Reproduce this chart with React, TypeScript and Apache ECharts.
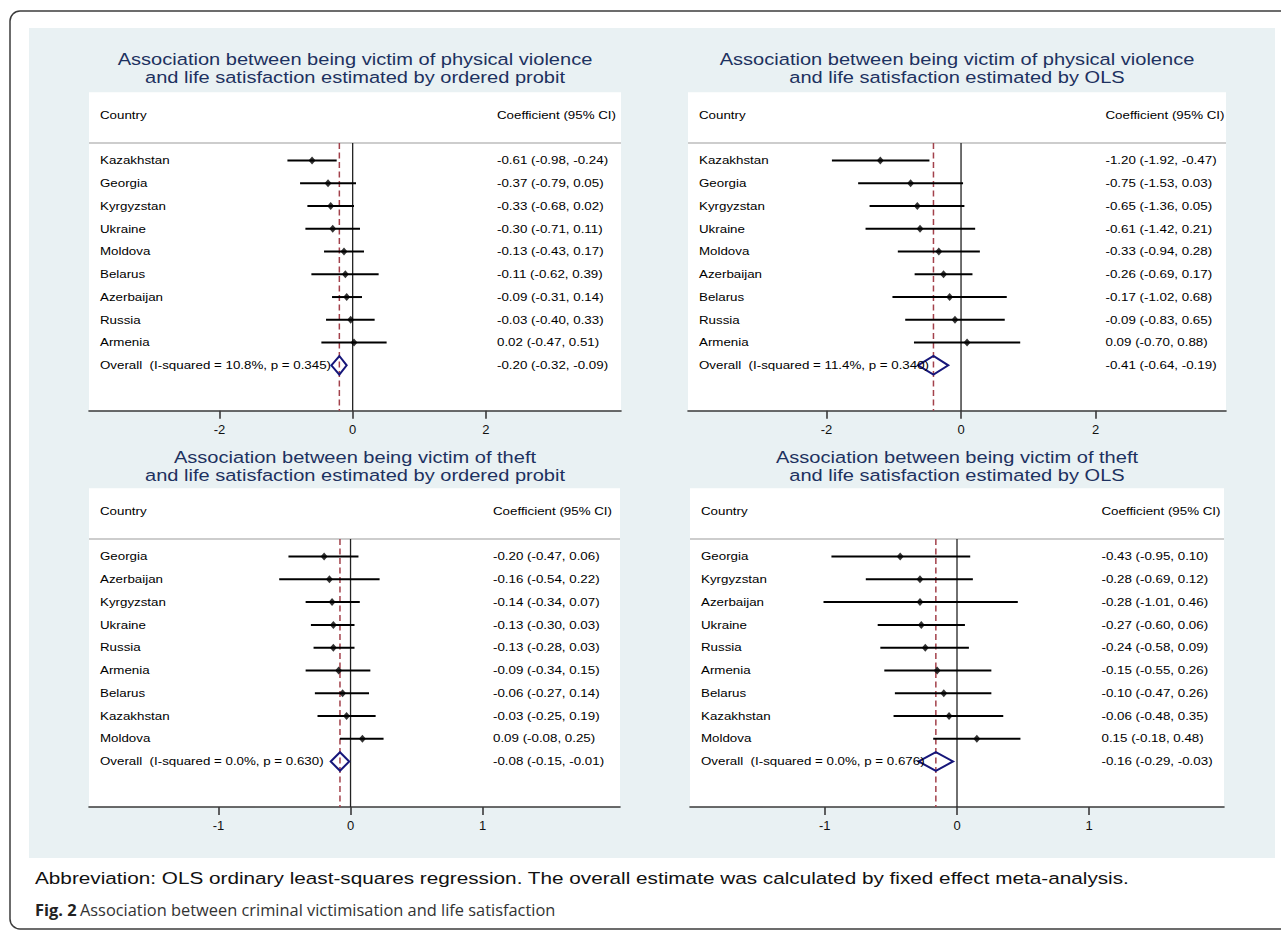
import React, { useEffect, useRef } from "react";
import * as echarts from "echarts";

const FONT = '"Liberation Sans", Arial, Helvetica, sans-serif';

// ---------- Data ----------
// Panel A: physical violence, ordered probit
const pvProbitCountries = ["Kazakhstan", "Georgia", "Kyrgyzstan", "Ukraine", "Moldova", "Belarus", "Azerbaijan", "Russia", "Armenia"];
const pvProbitEst = [-0.61, -0.37, -0.33, -0.3, -0.13, -0.11, -0.09, -0.03, 0.02];
const pvProbitLo = [-0.98, -0.79, -0.68, -0.71, -0.43, -0.62, -0.31, -0.4, -0.47];
const pvProbitHi = [-0.24, 0.05, 0.02, 0.11, 0.17, 0.39, 0.14, 0.33, 0.51];
const pvProbitOverall = [-0.2, -0.32, -0.09];
const pvProbitHet = "Overall  (I-squared = 10.8%, p = 0.345)";

// Panel B: physical violence, OLS
const pvOlsCountries = ["Kazakhstan", "Georgia", "Kyrgyzstan", "Ukraine", "Moldova", "Azerbaijan", "Belarus", "Russia", "Armenia"];
const pvOlsEst = [-1.2, -0.75, -0.65, -0.61, -0.33, -0.26, -0.17, -0.09, 0.09];
const pvOlsLo = [-1.92, -1.53, -1.36, -1.42, -0.94, -0.69, -1.02, -0.83, -0.7];
const pvOlsHi = [-0.47, 0.03, 0.05, 0.21, 0.28, 0.17, 0.68, 0.65, 0.88];
const pvOlsOverall = [-0.41, -0.64, -0.19];
const pvOlsHet = "Overall  (I-squared = 11.4%, p = 0.340)";

// Panel C: theft, ordered probit
const thProbitCountries = ["Georgia", "Azerbaijan", "Kyrgyzstan", "Ukraine", "Russia", "Armenia", "Belarus", "Kazakhstan", "Moldova"];
const thProbitEst = [-0.2, -0.16, -0.14, -0.13, -0.13, -0.09, -0.06, -0.03, 0.09];
const thProbitLo = [-0.47, -0.54, -0.34, -0.3, -0.28, -0.34, -0.27, -0.25, -0.08];
const thProbitHi = [0.06, 0.22, 0.07, 0.03, 0.03, 0.15, 0.14, 0.19, 0.25];
const thProbitOverall = [-0.08, -0.15, -0.01];
const thProbitHet = "Overall  (I-squared = 0.0%, p = 0.630)";

// Panel D: theft, OLS
const thOlsCountries = ["Georgia", "Kyrgyzstan", "Azerbaijan", "Ukraine", "Russia", "Armenia", "Belarus", "Kazakhstan", "Moldova"];
const thOlsEst = [-0.43, -0.28, -0.28, -0.27, -0.24, -0.15, -0.1, -0.06, 0.15];
const thOlsLo = [-0.95, -0.69, -1.01, -0.6, -0.58, -0.55, -0.47, -0.48, -0.18];
const thOlsHi = [0.1, 0.12, 0.46, 0.06, 0.09, 0.26, 0.26, 0.35, 0.48];
const thOlsOverall = [-0.16, -0.29, -0.03];
const thOlsHet = "Overall  (I-squared = 0.0%, p = 0.676)";

const topTicks = [-2, 0, 2];
const bottomTicks = [-1, 0, 1];

const titlesLine1 = [
  "Association between being victim of physical violence",
  "Association between being victim of physical violence",
  "Association between being victim of theft",
  "Association between being victim of theft",
];
const titlesLine2 = [
  "and life satisfaction estimated by ordered probit",
  "and life satisfaction estimated by OLS",
  "and life satisfaction estimated by ordered probit",
  "and life satisfaction estimated by OLS",
];

const HEADER_LEFT = "Country";
const HEADER_RIGHT = "Coefficient (95% CI)";
const FOOTNOTE =
  "Abbreviation: OLS ordinary least-squares regression. The overall estimate was calculated by fixed effect meta-analysis.";
const CAPTION_BOLD = "Fig. 2";
const CAPTION_TEXT = "Association between criminal victimisation and life satisfaction";

// ---------- Layout ----------
const ROW_MIN = -1;
const ROW_MAX = 13;
const HEADER_ROW = 0;
const FIRST_ROW = 2;
const OVERALL_ROW = 11;
const RULE_ROW = 1.23;

const TITLE_COLOR = "#1d3160";
const DIAMOND_COLOR = "#16167a";
const DASH_COLOR = "#a3414b";
const AXIS_COLOR = "#3a3a3a";
const BODY_SIZE = 11.8;
const BODY_SCALE = 1.13;

const panels = [
  {
    countries: pvProbitCountries, est: pvProbitEst, lo: pvProbitLo, hi: pvProbitHi,
    overall: pvProbitOverall, het: pvProbitHet,
    xMin: -3.96, xMax: 4.03, ticks: topTicks,
    box: [89, 92.3, 532, 318.5], coefMargin: 124, titleX: 355, titleY: [59.5, 77.5],
  },
  {
    countries: pvOlsCountries, est: pvOlsEst, lo: pvOlsLo, hi: pvOlsHi,
    overall: pvOlsOverall, het: pvOlsHet,
    xMin: -4.06, xMax: 3.94, ticks: topTicks,
    box: [688, 92.3, 538, 318.5], coefMargin: 120.5, titleX: 957, titleY: [59.5, 77.5],
  },
  {
    countries: thProbitCountries, est: thProbitEst, lo: thProbitLo, hi: thProbitHi,
    overall: thProbitOverall, het: thProbitHet,
    xMin: -1.98, xMax: 2.04, ticks: bottomTicks,
    box: [89, 488.3, 531, 318.7], coefMargin: 127, titleX: 355, titleY: [456.7, 475],
  },
  {
    countries: thOlsCountries, est: thOlsEst, lo: thOlsLo, hi: thOlsHi,
    overall: thOlsOverall, het: thOlsHet,
    xMin: -2.02, xMax: 2.02, ticks: bottomTicks,
    box: [690, 488.3, 534, 318.7], coefMargin: 122.5, titleX: 957, titleY: [456.7, 475],
  },
];

const fmt = (v: number) => v.toFixed(2);
const coefText = (e: number, l: number, h: number) => `${fmt(e)} (${fmt(l)}, ${fmt(h)})`;

function buildOption() {
  const grid: any[] = [];
  const xAxis: any[] = [];
  const yAxis: any[] = [];
  const series: any[] = [];
  const graphic: any[] = [];

  // background + border
  graphic.push({
    type: "rect", z: -100, silent: true,
    shape: { x: 29, y: 28, width: 1246, height: 830 },
    style: { fill: "#e9f1f3" },
  });
  graphic.push({
    type: "rect", z: -99, silent: true,
    shape: { x: 10, y: 11, width: 1300, height: 918, r: 10 },
    style: { fill: "none", stroke: "#3c3c3c", lineWidth: 1.5 },
  });

  panels.forEach((p, i) => {
    const [left, top, width, height] = p.box;
    grid.push({ left, top, width, height, show: true, backgroundColor: "#ffffff", borderWidth: 0 });
    xAxis.push({
      type: "value", gridIndex: i, min: p.xMin, max: p.xMax, position: "bottom",
      axisLine: { show: true, onZero: false, lineStyle: { color: AXIS_COLOR, width: 1.6 } },
      axisTick: { show: true, customValues: p.ticks, length: 8, lineStyle: { color: AXIS_COLOR, width: 1.6 } },
      axisLabel: { show: true, customValues: p.ticks, margin: 12, color: "#111", fontSize: 13, fontFamily: FONT },
      splitLine: { show: false },
    });
    yAxis.push({ type: "value", gridIndex: i, min: ROW_MIN, max: ROW_MAX, inverse: true, show: false });

    const rows = p.countries.map((_, k) => FIRST_ROW + k);

    // header rule
    series.push({
      type: "custom", xAxisIndex: i, yAxisIndex: i, z: 1, silent: true,
      data: [[p.xMin, p.xMax, RULE_ROW]],
      encode: { x: [0, 1], y: 2 },
      renderItem: (_: any, api: any) => {
        const a = api.coord([api.value(0), api.value(2)]);
        const b = api.coord([api.value(1), api.value(2)]);
        return { type: "line", shape: { x1: a[0], y1: a[1], x2: b[0], y2: b[1] }, style: { stroke: "#bdbdbd", lineWidth: 1.5 } };
      },
    });

    // zero line (solid) and overall line (dashed)
    series.push({
      type: "custom", xAxisIndex: i, yAxisIndex: i, z: 2, silent: true,
      data: [[0, RULE_ROW, ROW_MAX, 0], [p.overall[0], RULE_ROW, ROW_MAX, 1]],
      encode: { x: 0, y: [1, 2] },
      renderItem: (_: any, api: any) => {
        const a = api.coord([api.value(0), api.value(1)]);
        const b = api.coord([api.value(0), api.value(2)]);
        const dashed = api.value(3) === 1;
        return {
          type: "line",
          shape: { x1: a[0], y1: a[1], x2: b[0], y2: b[1] },
          style: dashed
            ? { stroke: DASH_COLOR, lineWidth: 1.5, lineDash: [6, 3.5] }
            : { stroke: "#222", lineWidth: 1.3 },
        };
      },
    });

    // CI lines
    series.push({
      type: "custom", xAxisIndex: i, yAxisIndex: i, z: 3, silent: true,
      data: rows.map((r, k) => [p.lo[k], p.hi[k], r]),
      encode: { x: [0, 1], y: 2 },
      renderItem: (_: any, api: any) => {
        const a = api.coord([api.value(0), api.value(2)]);
        const b = api.coord([api.value(1), api.value(2)]);
        return { type: "line", shape: { x1: a[0], y1: a[1], x2: b[0], y2: b[1] }, style: { stroke: "#000", lineWidth: 2 } };
      },
    });

    // point estimates
    series.push({
      type: "scatter", xAxisIndex: i, yAxisIndex: i, z: 4, silent: true,
      symbol: "diamond", symbolSize: [7, 8],
      itemStyle: { color: "#000" },
      data: rows.map((r, k) => [p.est[k], r]),
    });

    // overall diamond
    series.push({
      type: "custom", xAxisIndex: i, yAxisIndex: i, z: 5, silent: true,
      data: [[p.overall[1], p.overall[0], p.overall[2], OVERALL_ROW]],
      encode: { x: [0, 1, 2], y: 3 },
      renderItem: (_: any, api: any) => {
        const l = api.coord([api.value(0), api.value(3)]);
        const c = api.coord([api.value(1), api.value(3)]);
        const r = api.coord([api.value(2), api.value(3)]);
        const h = 9.3;
        return {
          type: "polygon",
          shape: { points: [[l[0], c[1]], [c[0], c[1] - h], [r[0], c[1]], [c[0], c[1] + h]] },
          style: { fill: "none", stroke: DIAMOND_COLOR, lineWidth: 2 },
        };
      },
    });

    // left texts (country names) and right texts (coefficients)
    const leftTexts = [HEADER_LEFT, ...p.countries, p.het];
    const rightTexts = [
      HEADER_RIGHT,
      ...p.countries.map((_, k) => coefText(p.est[k], p.lo[k], p.hi[k])),
      coefText(p.overall[0], p.overall[1], p.overall[2]),
    ];
    const textRows = [HEADER_ROW, ...rows, OVERALL_ROW];
    const margin = p.coefMargin;
    series.push({
      type: "custom", xAxisIndex: i, yAxisIndex: i, z: 6, silent: true,
      data: textRows.map((r) => [p.xMin, p.xMax, r]),
      encode: { x: [0, 1], y: 2 },
      renderItem: (params: any, api: any) => {
        const a = api.coord([api.value(0), api.value(2)]);
        const b = api.coord([api.value(1), api.value(2)]);
        const idx = params.dataIndex;
        const st = {
          fill: "#000", fontSize: BODY_SIZE, fontFamily: FONT,
          align: "left", textAlign: "left", verticalAlign: "middle", textVerticalAlign: "middle",
        };
        return {
          type: "group",
          children: [
            { type: "text", x: a[0] + 11, y: a[1], scaleX: BODY_SCALE, style: { ...st, text: leftTexts[idx] } },
            { type: "text", x: b[0] - margin, y: b[1], scaleX: BODY_SCALE, style: { ...st, text: rightTexts[idx] } },
          ],
        };
      },
    });

    // titles
    [titlesLine1[i], titlesLine2[i]].forEach((t, li) => {
      graphic.push({
        type: "text", x: p.titleX, y: p.titleY[li], scaleX: 1.18, silent: true, z: 10,
        style: {
          text: t, fill: TITLE_COLOR, fontSize: 17, fontFamily: FONT,
          align: "center", textAlign: "center", verticalAlign: "middle", textVerticalAlign: "middle",
        },
      });
    });
  });

  // footnote + caption
  graphic.push({
    type: "text", x: 35, y: 878, scaleX: 1.22, silent: true, z: 10,
    style: {
      text: FOOTNOTE, fill: "#111", fontSize: 17, fontFamily: FONT,
      align: "left", textAlign: "left", verticalAlign: "middle", textVerticalAlign: "middle",
    },
  });
  graphic.push({
    type: "text", x: 35, y: 909, silent: true, z: 10,
    style: {
      text: `{a|${CAPTION_BOLD}} {b|${CAPTION_TEXT}}`,
      align: "left", textAlign: "left", verticalAlign: "middle", textVerticalAlign: "middle",
      rich: {
        a: { fontFamily: '"Open Sans", sans-serif', fontWeight: "bold", fontSize: 16.4, fill: "#222", color: "#222" },
        b: { fontFamily: '"Open Sans", sans-serif', fontWeight: "normal", fontSize: 16.4, fill: "#333", color: "#333" },
      },
    },
  });

  return {
    animation: false,
    backgroundColor: "#ffffff",
    grid, xAxis, yAxis, series, graphic,
  };
}

export default function App() {
  const ref = useRef<HTMLDivElement>(null);
  useEffect(() => {
    if (!ref.current) return;
    const chart = echarts.init(ref.current, undefined, { renderer: "svg" });
    chart.setOption(buildOption() as any);
    return () => chart.dispose();
  }, []);
  return <div ref={ref} style={{ position: "absolute", left: 0, top: 0, width: 1281, height: 931 }} />;
}
